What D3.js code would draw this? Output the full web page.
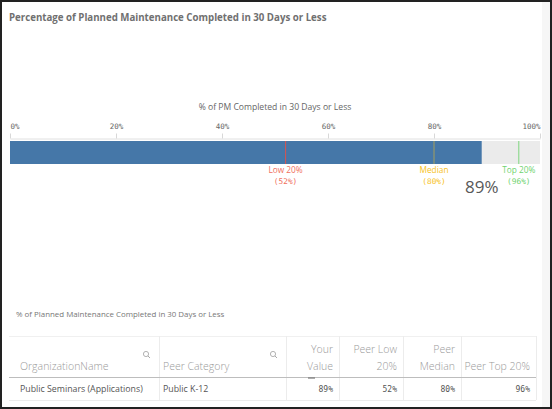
<!DOCTYPE html>
<html>
<head>
<meta charset="utf-8">
<script src="https://cdn.jsdelivr.net/npm/d3@7"></script>
<style>
  body { margin: 0; background: #fff; }
  text { font-family: "Open Sans", "DejaVu Sans", sans-serif; }
  .mono { font-family: "DejaVu Sans Mono", monospace; }
</style>
</head>
<body>
<div id="chart"></div>
<script>
// chart values
const tickValues = [0, 20, 40, 60, 80, 100];
const yourValue = 89;
const markerNames = ["Low 20%", "Median", "Top 20%"];
const markerValues = [52, 80, 96];
const markerColors = ["#f0705e", "#f7c21c", "#6fd36f"];
const markerLineColors = ["#d9534f", "#a49f5c", "#7fd67f"];

// table values
const columnNames = ["OrganizationName", "Peer Category", "Your Value", "Peer Low 20%", "Peer Median", "Peer Top 20%"];
const columnHeadLines = [["OrganizationName"], ["Peer Category"], ["Your", "Value"], ["Peer Low", "20%"], ["Peer", "Median"], ["Peer Top 20%"]];
const rowValues = ["Public Seminars (Applications)", "Public K-12", "89%", "52%", "80%", "96%"];

const W = 552, H = 409;

const svg = d3.select("#chart").append("svg")
    .attr("width", W)
    .attr("height", H);

// scrollbar track and frame
svg.append("rect")
    .attr("x", 542).attr("y", 0)
    .attr("width", 9).attr("height", H)
    .attr("fill", "#f6f6f6");

svg.append("rect")
    .attr("x", 1).attr("y", 1)
    .attr("width", W - 2).attr("height", H - 2)
    .attr("fill", "none")
    .attr("stroke", "#222")
    .attr("stroke-width", 2);

// title
svg.append("text")
    .attr("x", 9)
    .attr("y", 21)
    .style("font-size", "9.7px")
    .style("font-weight", "bold")
    .style("fill", "#707070")
    .text("Percentage of Planned Maintenance Completed in 30 Days or Less");

// bullet
const x = d3.scaleLinear()
    .domain([0, 100])
    .range([10, 540]);

const barTop = 141, barH = 23;

svg.append("text")
    .attr("x", (x(0) + x(100)) / 2)
    .attr("y", 110)
    .attr("text-anchor", "middle")
    .style("font-size", "8.6px")
    .style("fill", "#666")
    .text("% of PM Completed in 30 Days or Less");

svg.append("rect")
    .attr("x", x(0))
    .attr("y", barTop)
    .attr("width", x(100) - x(0))
    .attr("height", barH)
    .attr("fill", "#ebebeb");

const xAxis = d3.axisTop(x)
    .tickValues(tickValues)
    .tickSize(5)
    .tickSizeOuter(0)
    .tickPadding(5)
    .tickFormat(d => d + "%");

const axisG = svg.append("g")
    .attr("transform", "translate(0," + 138.5 + ")")
    .call(xAxis);

axisG.select(".domain").attr("stroke", "#e0e0e0");
axisG.selectAll(".tick line").attr("stroke", "#d8d8d8");
axisG.selectAll(".tick text")
    .attr("class", "mono")
    .style("font-size", "7.5px")
    .style("fill", "#666")
    .attr("text-anchor", (d, i) => i === 0 ? "start" : (i === tickValues.length - 1 ? "end" : "middle"));

svg.append("rect")
    .attr("x", x(0))
    .attr("y", barTop)
    .attr("width", x(yourValue) - x(0))
    .attr("height", barH)
    .attr("fill", "#4577a8");

const markers = svg.selectAll(".marker")
    .data(markerValues)
    .enter().append("g")
    .attr("class", "marker");

markers.append("line")
    .attr("x1", d => x(d))
    .attr("x2", d => x(d))
    .attr("y1", barTop)
    .attr("y2", barTop + barH)
    .attr("stroke", (d, i) => markerLineColors[i])
    .attr("stroke-width", 1);

markers.append("text")
    .attr("x", d => x(d))
    .attr("y", 173)
    .attr("text-anchor", "middle")
    .style("font-size", "8.3px")
    .style("fill", (d, i) => markerColors[i])
    .text((d, i) => markerNames[i]);

markers.append("text")
    .attr("class", "mono")
    .attr("x", d => x(d))
    .attr("y", 184)
    .attr("text-anchor", "middle")
    .style("font-size", "7.8px")
    .style("fill", (d, i) => markerColors[i])
    .text(d => "(" + d + "%)");

svg.append("text")
    .attr("x", x(yourValue))
    .attr("y", 193)
    .attr("text-anchor", "middle")
    .style("font-size", "17px")
    .style("fill", "#595959")
    .text(yourValue + "%");

// table
svg.append("text")
    .attr("x", 16)
    .attr("y", 317)
    .style("font-size", "7.9px")
    .style("fill", "#777")
    .text("% of Planned Maintenance Completed in 30 Days or Less");

const colEdges = [9, 159, 286, 339, 403, 461, 536];
const tTop = 336, tHead = 377.5, tBottom = 400;

svg.append("line")
    .attr("x1", colEdges[0]).attr("x2", colEdges[6])
    .attr("y1", tTop + 0.5).attr("y2", tTop + 0.5)
    .attr("stroke", "#f0f0f0");
svg.append("line")
    .attr("x1", colEdges[0]).attr("x2", colEdges[6])
    .attr("y1", tBottom + 0.5).attr("y2", tBottom + 0.5)
    .attr("stroke", "#ececec");

svg.selectAll(".sep")
    .data(colEdges.slice(1))
    .enter().append("line")
    .attr("class", "sep")
    .attr("x1", d => d + 0.5).attr("x2", d => d + 0.5)
    .attr("y1", tTop).attr("y2", tBottom)
    .attr("stroke", "#ececec");

svg.append("line")
    .attr("x1", colEdges[0]).attr("x2", colEdges[6])
    .attr("y1", tHead).attr("y2", tHead)
    .attr("stroke", "#bdbdbd");

// sort indicator under Your Value
svg.append("line")
    .attr("x1", 308).attr("x2", 315)
    .attr("y1", tHead + 0.5).attr("y2", tHead + 0.5)
    .attr("stroke", "#777")
    .attr("stroke-width", 1.2);

columnNames.forEach(function (name, i) {
    const left = i < 2;
    const tx = left ? colEdges[i] + (i === 0 ? 11 : 4) : colEdges[i + 1] - 6;
    const lines = columnHeadLines[i];
    lines.forEach(function (ln, j) {
        svg.append("text")
            .attr("x", tx)
            .attr("y", 370 - (lines.length - 1 - j) * 17)
            .attr("text-anchor", left ? "start" : "end")
            .style("font-size", "10.5px")
            .style("font-weight", "300")
            .style("fill", "#9a9a9a")
            .text(ln);
    });

    svg.append("text")
        .attr("class", left ? null : "mono")
        .attr("x", tx)
        .attr("y", 392)
        .attr("text-anchor", left ? "start" : "end")
        .style("font-size", left ? "8.8px" : "8px")
        .style("fill", "#555")
        .text(rowValues[i]);

    if (left) {
        // search icon
        const ix = colEdges[i + 1] - 13, iy = 354;
        const g = svg.append("g").attr("transform", "translate(" + ix + "," + iy + ")");
        g.append("circle").attr("cx", 0).attr("cy", 0).attr("r", 2.6)
            .attr("fill", "none").attr("stroke", "#aaa").attr("stroke-width", 0.9);
        g.append("line").attr("x1", 1.9).attr("y1", 1.9).attr("x2", 4).attr("y2", 4)
            .attr("stroke", "#aaa").attr("stroke-width", 1);
    }
});
</script>
</body>
</html>
